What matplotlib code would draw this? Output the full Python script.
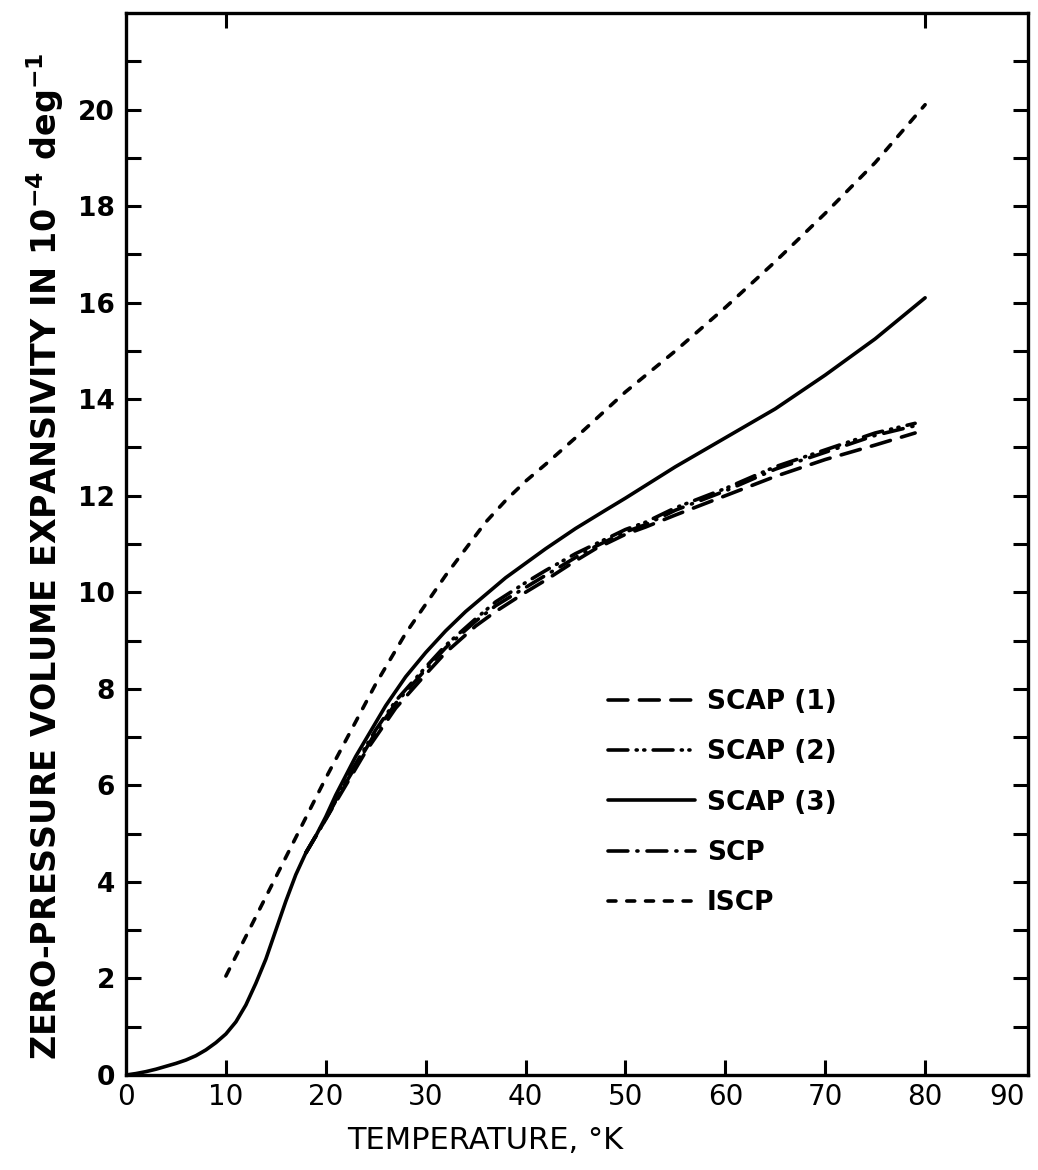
import matplotlib
matplotlib.use("Agg")
import matplotlib.pyplot as plt

# Values (temperature in K, expansivity in 1e-4 / deg)
t_scap3 = [0, 1, 2, 3, 4, 5, 6, 7, 8, 9, 10, 11, 12, 13, 14, 15, 16, 17, 18, 19, 20,
           21, 22, 23, 24, 25, 26, 27, 28, 29, 30, 32, 34, 36, 38, 40, 42, 45, 48, 50,
           55, 60, 65, 70, 75, 80]
a_scap3 = [0, 0.03, 0.07, 0.12, 0.18, 0.24, 0.31, 0.4, 0.52, 0.67, 0.85, 1.1, 1.45, 1.9, 2.4,
           3.0, 3.6, 4.15, 4.6, 4.95, 5.35, 5.8, 6.2, 6.6, 6.95, 7.3, 7.65, 7.95, 8.25, 8.5,
           8.75, 9.2, 9.6, 9.95, 10.3, 10.6, 10.9, 11.32, 11.7, 11.95, 12.6, 13.2, 13.8, 14.5,
           15.25, 16.1]

t_iscp = [10, 15, 20, 25, 27, 28, 30, 32, 34, 36, 38, 40, 42, 45, 50, 55, 60, 65, 70, 75, 80]
a_iscp = [2.05, 4.1, 6.15, 8.1, 8.8, 9.15, 9.75, 10.35, 10.9, 11.45, 11.9, 12.3, 12.65,
          13.2, 14.15, 15.0, 15.9, 16.85, 17.85, 18.9, 20.1]

t_low = [18, 19, 20, 21, 22, 23, 24, 25, 27, 30, 32, 35, 37, 40, 42, 45, 47, 50, 52, 55,
         60, 65, 70, 75, 79]
a_scap1 = [4.6, 4.95, 5.3, 5.65, 6.0, 6.35, 6.7, 7.0, 7.6, 8.3, 8.75, 9.3, 9.6, 10.0, 10.25,
           10.65, 10.9, 11.2, 11.35, 11.6, 12.0, 12.4, 12.75, 13.05, 13.3]
a_scap2 = [4.6, 4.95, 5.3, 5.7, 6.1, 6.45, 6.8, 7.15, 7.75, 8.45, 8.9, 9.45, 9.8, 10.2, 10.45,
           10.8, 11.0, 11.3, 11.45, 11.75, 12.15, 12.6, 12.95, 13.3, 13.5]
a_scp = [4.6, 4.95, 5.3, 5.68, 6.05, 6.4, 6.75, 7.1, 7.7, 8.4, 8.85, 9.4, 9.72, 10.1, 10.35,
         10.72, 10.95, 11.25, 11.4, 11.7, 12.1, 12.55, 12.9, 13.25, 13.45]

series_labels = ["SCAP (1)", "SCAP (2)", "SCAP (3)", "SCP", "ISCP"]

x_ticks = [0, 10, 20, 30, 40, 50, 60, 70, 80, 90]
y_ticks = [0, 2, 4, 6, 8, 10, 12, 14, 16, 18, 20]

plt.rcParams["font.family"] = "DejaVu Sans"

fig = plt.figure(figsize=(10.38, 11.7), dpi=100)
ax = fig.add_axes([126 / 1038, 1 - 1075 / 1170, 902 / 1038, 1062 / 1170])

lw = 2.6
common = dict(color="black", lw=lw, dash_capstyle="round", solid_capstyle="round")
ax.plot(t_low, a_scap1, linestyle=(0, (5.5, 3.2)), label=series_labels[0], **common)
ax.plot(t_low, a_scap2, linestyle=(0, (5.5, 2.3, 0.3, 1.8, 0.3, 2.3)), label=series_labels[1], **common)
ax.plot(t_scap3, a_scap3, linestyle="-", label=series_labels[2], **common)
ax.plot(t_low, a_scp, linestyle=(0, (5.5, 2.5, 0.3, 2.5)), label=series_labels[3], **common)
ax.plot(t_iscp, a_iscp, linestyle=(0, (2.2, 3.0)), label=series_labels[4], **common)

ax.set_xlim(0, 90.3)
ax.set_ylim(0, 22)

for side in ax.spines.values():
    side.set_linewidth(2.4)

# bottom / left ticks
ax.set_xticks(x_ticks)
ax.set_xticklabels([str(v) for v in x_ticks], fontsize=20)
ax.set_yticks(range(0, 23))
ax.set_yticklabels([str(v) if v in y_ticks else "" for v in range(0, 23)],
                   fontsize=19, fontweight="bold")
ax.tick_params(axis="both", direction="in", length=11, width=2.2, pad=8)
ax.tick_params(axis="x", pad=6)
ax.get_xticklabels()[-1].set_horizontalalignment("right")

# hide the tick marks that sit on the corners
for t in ax.xaxis.get_major_ticks():
    if t.get_loc() in (0, 90):
        t.tick1line.set_visible(False)
ax.yaxis.get_major_ticks()[0].tick1line.set_visible(False)
ax.yaxis.get_major_ticks()[22].tick1line.set_visible(False)

# right side ticks every unit, top ticks at 10 and 80
sec_y = ax.secondary_yaxis("right")
sec_y.set_yticks(range(1, 22))
sec_y.set_yticklabels([])
sec_y.tick_params(direction="in", length=11, width=2.2)
sec_y.spines["right"].set_visible(False)
sec_x = ax.secondary_xaxis("top")
sec_x.set_xticks([10, 80])
sec_x.set_xticklabels([])
sec_x.tick_params(direction="in", length=11, width=2.2)
sec_x.spines["top"].set_visible(False)

ax.text(36, -0.048, "TEMPERATURE, \u00b0K", transform=ax.get_xaxis_transform(),
        ha="center", va="top", fontsize=22)
fig.text(45 / 1038, 1 - 556 / 1170,
         "ZERO-PRESSURE VOLUME EXPANSIVITY IN 10$^{\\mathbf{-4}}$ deg$^{\\mathbf{-1}}$",
         rotation=90, ha="center", va="center", fontsize=24, fontweight="bold")

ax.legend(loc="upper left", bbox_to_anchor=((608 - 126) / 902, (1075 - 689) / 1062),
          frameon=False, borderpad=0, borderaxespad=0, handlelength=3.3,
          handletextpad=0.45, labelspacing=0.92,
          prop={"size": 19, "weight": "bold"})

fig.savefig("out.png", dpi=100)
